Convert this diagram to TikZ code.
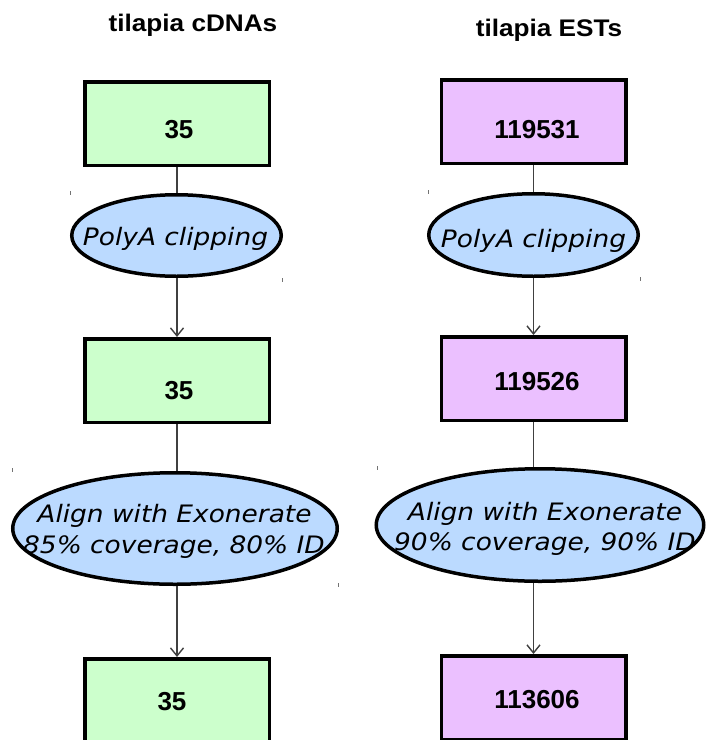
\documentclass[tikz,border=0pt]{standalone}
\usepackage{fontspec}
\setmainfont{Liberation Sans}
\newfontfamily\headfont[FakeStretch=1.09]{Liberation Sans}
\newfontfamily\stepfont[FakeStretch=1.1]{DejaVu Sans}
\usetikzlibrary{shapes.geometric,arrows.meta}
\definecolor{cdnafill}{HTML}{CCFFCC}
\definecolor{estfill}{HTML}{EBC0FF}
\definecolor{procfill}{HTML}{BBDAFF}
\tikzset{
  countbox/.style={draw, line width=3.5pt, rectangle, inner sep=0pt,
    minimum width=184.5pt, minimum height=83.5pt},
  cdna/.style={countbox, fill=cdnafill},
  est/.style={countbox, fill=estfill},
  proc/.style={draw, ellipse, line width=3.5pt, fill=procfill, inner sep=0pt},
  count/.style={font=\bfseries\fontsize{26}{30}\selectfont, anchor=base, inner sep=0pt},
  coltitle/.style={font=\headfont\bfseries\fontsize{24}{28}\selectfont, anchor=base, inner sep=0pt},
  steptext/.style={font=\stepfont\itshape\fontsize{24}{31}\selectfont, anchor=base, inner sep=0pt},
  link/.style={draw=black!75, line width=1.1pt},
  flow/.style={link, -{Straight Barb[length=8pt,width=13pt,line width=1.4pt]}},
  speck/.style={draw=black!55, line width=1pt}
}
\begin{document}
\begin{tikzpicture}[x=1pt,y=-1pt]
\clip (0,0) rectangle (708,740);
\fill[white] (0,0) rectangle (708,740);

% column headings
\node[coltitle] (tl) at (193,31) {tilapia cDNAs};
\node[coltitle] (tr) at (549,36) {tilapia ESTs};

% cDNA column
\node[cdna] (lb1) at (177,123.5) {};
\node[proc, minimum width=209.5pt, minimum height=81.5pt] (le1) at (176.5,235.5) {};
\node[cdna] (lb2) at (177,380.5) {};
\node[proc, minimum width=324.5pt, minimum height=111.5pt] (le2) at (175,528.5) {};
\node[cdna] (lb3) at (177,700.5) {};

% EST column
\node[est] (rb1) at (533.5,121.5) {};
\node[proc, minimum width=209.5pt, minimum height=82.5pt] (re1) at (533.5,235) {};
\node[est] (rb2) at (533.5,378.5) {};
\node[proc, minimum width=327.5pt, minimum height=112.5pt] (re2) at (540,525) {};
\node[est] (rb3) at (533.5,697.5) {};

% counts
\node[count] (lc1) at (179,138) {35};
\node[count] (lc2) at (179,399) {35};
\node[count] (lc3) at (172,710) {35};
\node[count] (rc1) at (537,138) {119531};
\node[count] (rc2) at (537,390) {119526};
\node[count] (rc3) at (537,708) {113606};

% processing steps
\node[steptext] (ls1) at (175.5,245) {PolyA clipping};
\node[steptext] (rs1) at (533.5,247) {PolyA clipping};
\node[steptext] (ls2a) at (174.5,522) {Align with Exonerate};
\node[steptext] (ls2b) at (174,553) {85\% coverage, 80\% ID};
\node[steptext] (rs2a) at (545,520) {Align with Exonerate};
\node[steptext] (rs2b) at (545,550) {90\% coverage, 90\% ID};

% connectors
\draw[link] (lb1.south) -- (lb1.south |- le1.north);
\draw[flow] (lb1.south |- le1.south) -- (lb2.north);
\draw[link] (lb2.south) -- (lb2.south |- le2.north);
\draw[flow] (lb2.south |- le2.south) -- (lb3.north);
\draw[link] (rb1.south) -- (rb1.south |- re1.north);
\draw[flow] (rb1.south |- re1.south) -- (rb2.north);
\draw[link] (rb2.south) -- (rb2.south |- re2.north);
\draw[flow] (rb2.south |- re2.south) -- (rb3.north);

% small marks at the step corners
\foreach \mx/\my in {70/193, 282/280, 12/470, 338/585, 428/192, 640/279, 377/468}
  \draw[speck] (\mx,\my-2) -- (\mx,\my+2);
\end{tikzpicture}
\end{document}
